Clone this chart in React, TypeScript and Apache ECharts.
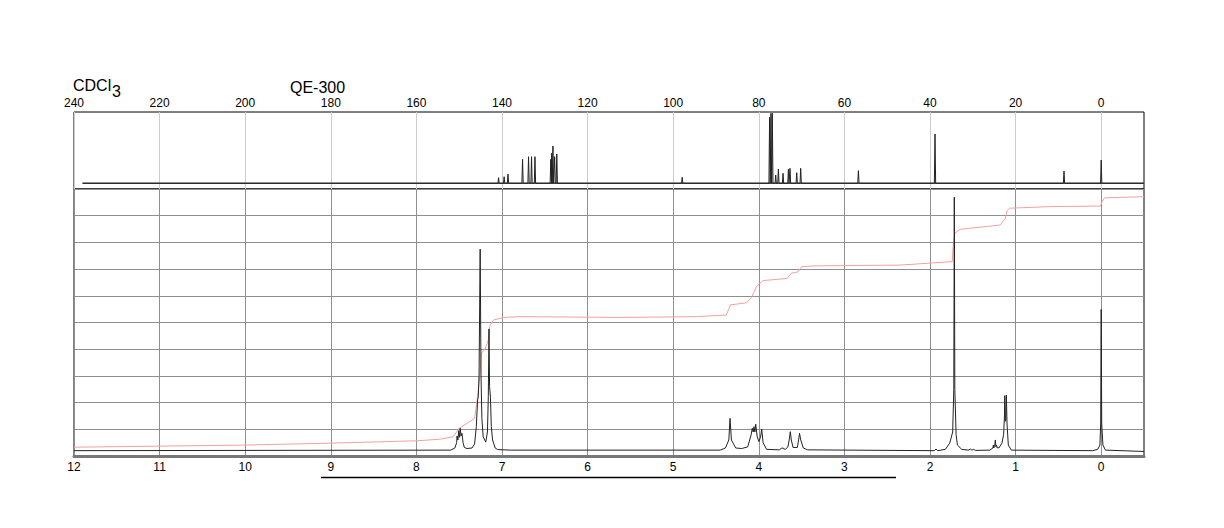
import React, { useEffect, useRef } from "react";
import * as echarts from "echarts";

// Tick labels
const hTicks = [12, 11, 10, 9, 8, 7, 6, 5, 4, 3, 2, 1, 0];
const cTicks = [240, 220, 200, 180, 160, 140, 120, 100, 80, 60, 40, 20, 0];

// 13C spectrum: baseline level and peak list [ppm, height]
const cBaseLevel = 5.7;
const cRange: [number, number] = [238, -10];
const cPeaks: [number, number][] = [
  [140.8, 11.3], [139.5, 12.3], [138.6, 15], [135.2, 29.7], [133.8, 32.3],
  [133.1, 32.3], [132.3, 32.3], [128.6, 29.7], [128.4, 35.7], [128.1, 43],
  [127.7, 32.3], [127.2, 35], [97.9, 11.7], [77.48, 71.7], [77.16, 75.7],
  [76.84, 75.7], [76.05, 14], [75.42, 20], [74.34, 15.7], [73.08, 19.7],
  [72.71, 20.7], [71.14, 16.3], [70.21, 20.7], [56.73, 18.3], [38.83, 55],
  [8.69, 18], [0, 29],
];

// 1H spectrum [ppm, intensity]
const hSpectrum: [number, number][] = [
  [12, 0.2], [7.6, 0.22], [7.55, 0.3], [7.53, 0.5], [7.525, 0.75], [7.515, 0.6],
  [7.505, 0.95], [7.495, 0.7], [7.488, 1.04], [7.478, 0.75], [7.468, 0.85],
  [7.455, 0.5], [7.44, 0.32], [7.41, 0.28], [7.35, 0.3], [7.32, 0.45],
  [7.3, 1.1], [7.285, 2.1], [7.277, 2.22], [7.268, 3.0], [7.255, 7.75],
  [7.245, 3.0], [7.235, 1.4], [7.22, 0.72], [7.19, 0.52], [7.17, 0.9],
  [7.16, 2.22], [7.152, 4.76], [7.145, 2.6], [7.135, 2.2], [7.125, 1.1],
  [7.11, 0.6], [7.08, 0.3], [7.05, 0.24], [6.9, 0.22], [4.45, 0.22],
  [4.39, 0.3], [4.35, 0.6], [4.336, 1.41], [4.32, 0.6], [4.27, 0.3],
  [4.2, 0.28], [4.13, 0.34], [4.09, 0.79], [4.076, 1.04], [4.066, 0.9],
  [4.056, 1.1], [4.046, 0.9], [4.036, 1.19], [4.02, 0.75], [4.0, 0.54],
  [3.98, 0.7], [3.966, 1.0], [3.95, 0.5], [3.91, 0.25], [3.76, 0.23],
  [3.735, 0.29], [3.728, 0.27], [3.72, 0.31], [3.71, 0.27], [3.69, 0.25],
  [3.66, 0.34], [3.645, 0.6], [3.632, 0.91], [3.62, 0.6], [3.6, 0.32],
  [3.55, 0.32], [3.535, 0.6], [3.524, 0.85], [3.51, 0.6], [3.48, 0.3],
  [3.43, 0.23], [1.95, 0.2], [1.93, 0.26], [1.91, 0.2], [1.82, 0.25],
  [1.77, 0.48], [1.735, 0.9], [1.722, 2.5], [1.716, 9.69], [1.71, 2.5],
  [1.695, 0.8], [1.68, 0.41], [1.63, 0.25], [1.55, 0.22], [1.53, 0.26],
  [1.51, 0.22], [1.49, 0.25], [1.47, 0.21], [1.3, 0.22], [1.265, 0.3],
  [1.26, 0.41], [1.255, 0.3], [1.245, 0.35], [1.237, 0.6], [1.23, 0.35],
  [1.222, 0.41], [1.215, 0.3], [1.206, 0.32], [1.195, 0.3], [1.16, 0.48],
  [1.14, 0.8], [1.13, 1.5], [1.127, 2.26], [1.12, 1.3], [1.115, 1.35],
  [1.108, 2.28], [1.1, 1.2], [1.085, 0.41], [1.05, 0.22], [0.1, 0.2],
  [0.04, 0.25], [0.015, 0.41], [0.006, 1.2], [0.0, 5.49], [-0.006, 1.2],
  [-0.02, 0.41], [-0.05, 0.22], [-0.5, 0.17],
];

// 1H integral curve [ppm, level]
const hIntegral: [number, number][] = [
  [12, 0.33], [11, 0.37], [10, 0.41], [9.01, 0.48], [7.99, 0.57], [7.72, 0.63],
  [7.57, 0.72], [7.5, 1.04], [7.41, 1.22], [7.32, 1.41], [7.29, 2.1],
  [7.26, 2.97], [7.24, 3.85], [7.2, 4.0], [7.16, 4.34], [7.14, 4.9],
  [7.1, 5.09], [6.98, 5.19], [6.79, 5.22], [5.62, 5.19], [4.73, 5.22],
  [4.38, 5.28], [4.33, 5.66], [4.14, 5.74], [4.08, 5.97], [4.03, 6.32],
  [3.99, 6.47], [3.95, 6.57], [3.67, 6.65], [3.62, 6.84], [3.54, 6.9],
  [3.5, 7.09], [3.36, 7.12], [2.35, 7.15], [1.74, 7.28], [1.73, 7.84],
  [1.71, 8.34], [1.65, 8.49], [1.18, 8.65], [1.12, 8.9], [1.1, 9.19],
  [1.07, 9.28], [0.6, 9.34], [0.01, 9.36], [-0.01, 9.52], [-0.04, 9.67],
  [-0.5, 9.71],
];

const FONT = "'Liberation Sans', Arial, sans-serif";

function buildCSpectrum(): [number, number][] {
  const hw = 0.15;
  const out: [number, number][] = [[cRange[0], cBaseLevel]];
  const sorted = [...cPeaks].sort((a, b) => b[0] - a[0]);
  for (const [p, h] of sorted) {
    out.push([p + hw, cBaseLevel], [p, h], [p - hw, cBaseLevel]);
  }
  out.push([cRange[1], cBaseLevel]);
  return out;
}

export default function App() {
  const ref = useRef<HTMLDivElement>(null);
  useEffect(() => {
    if (!ref.current) return;
    const chart = echarts.init(ref.current, undefined, { renderer: "svg" });
    const option: any = {
      animation: false,
      backgroundColor: "#fff",
      grid: [
        { left: 74, width: 1070, top: 112, height: 77, show: true, borderColor: "#000", borderWidth: 1, backgroundColor: "transparent" },
        { left: 74, width: 1070, top: 189, height: 267, show: true, borderColor: "#000", borderWidth: 1, backgroundColor: "transparent" },
      ],
      xAxis: [
        {
          gridIndex: 0, type: "value", min: -10, max: 240, inverse: true, position: "top",
          axisLine: { show: false },
          axisTick: { show: false, customValues: cTicks },
          axisLabel: { customValues: cTicks, margin: 3, fontSize: 12, color: "#000", fontFamily: FONT },
          splitLine: { show: true, lineStyle: { color: "#cccccc", width: 1 } },
        },
        {
          gridIndex: 1, type: "value", min: -0.5, max: 12, inverse: true, position: "bottom",
          axisLine: { show: true, onZero: false, lineStyle: { color: "#777", width: 3 } },
          axisTick: { show: false, customValues: hTicks },
          axisLabel: { customValues: hTicks, margin: 5, fontSize: 12, color: "#000", fontFamily: FONT },
          splitLine: { show: true, lineStyle: { color: "#8f8f8f", width: 1 } },
        },
      ],
      yAxis: [
        {
          gridIndex: 0, type: "value", min: 0, max: 77,
          axisLine: { show: false }, axisTick: { show: false }, axisLabel: { show: false },
          splitLine: { show: false },
        },
        {
          gridIndex: 1, type: "value", min: 0, max: 10, interval: 1,
          axisLine: { show: false }, axisTick: { show: false }, axisLabel: { show: false },
          splitLine: { show: true, lineStyle: { color: "#8f8f8f", width: 1 } },
        },
      ],
      series: [
        {
          name: "13C baseline", type: "line", xAxisIndex: 0, yAxisIndex: 0,
          data: [[cRange[0], cBaseLevel], [cRange[1], cBaseLevel]],
          showSymbol: false, silent: true,
          lineStyle: { color: "#555", width: 1.5 },
        },
        {
          name: "13C", type: "line", xAxisIndex: 0, yAxisIndex: 0,
          data: buildCSpectrum(), showSymbol: false,
          lineStyle: { color: "#222", width: 1 },
        },
        {
          name: "integral", type: "line", xAxisIndex: 1, yAxisIndex: 1,
          data: hIntegral, showSymbol: false,
          lineStyle: { color: "#f4a0a0", width: 1 },
        },
        {
          name: "1H", type: "line", xAxisIndex: 1, yAxisIndex: 1,
          data: hSpectrum, showSymbol: false,
          lineStyle: { color: "#222", width: 1 },
        },
      ],
      graphic: [
        { type: "text", x: 73, y: 85, style: { text: "CDCl", font: `16px ${FONT}`, fill: "#000", verticalAlign: "middle", align: "left" } },
        { type: "text", x: 112, y: 91, style: { text: "3", font: `16px ${FONT}`, fill: "#000", verticalAlign: "middle", align: "left" } },
        { type: "text", x: 290, y: 87, style: { text: "QE-300", font: `16px ${FONT}`, fill: "#000", verticalAlign: "middle", align: "left" } },
        { type: "line", shape: { x1: 321, y1: 477.5, x2: 896, y2: 477.5 }, style: { stroke: "#000", lineWidth: 1.5 } },
      ],
    };
    chart.setOption(option);
    return () => chart.dispose();
  }, []);
  return (
    <div
      ref={ref}
      style={{ position: "absolute", left: 0, top: 0, width: 1224, height: 528 }}
    />
  );
}
